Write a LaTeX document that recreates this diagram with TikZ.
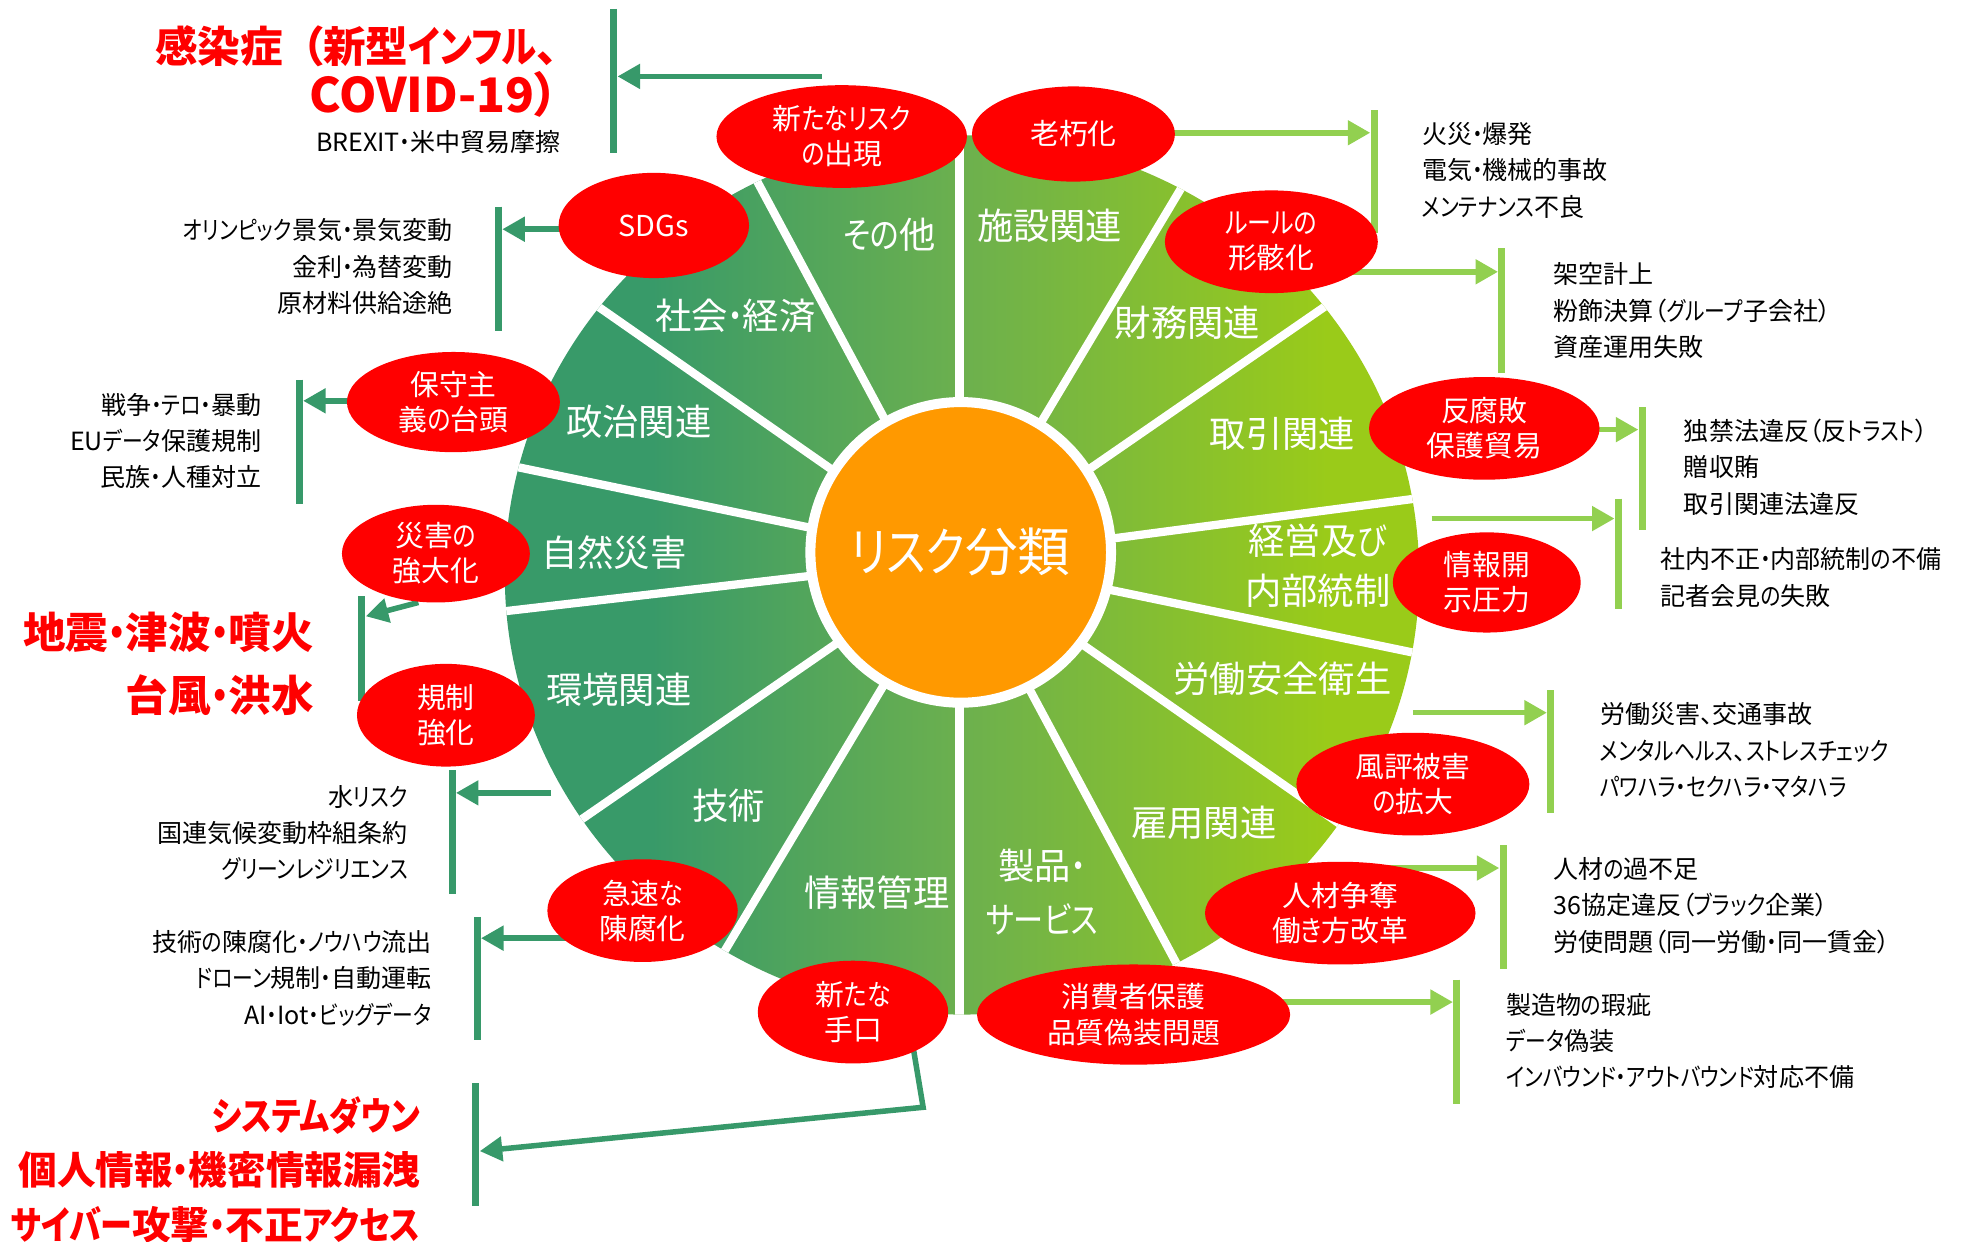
\documentclass[tikz,border=0pt]{standalone}
\usepackage{fontspec}
\setmainfont{Noto Sans CJK JP}[RawFeature=+palt]
\newfontfamily\kanafam{Noto Sans CJK JP}[RawFeature=+palt, FakeStretch=0.83]
\usetikzlibrary{arrows.meta,shapes.geometric}
\definecolor{dkg}{HTML}{37996A}
\definecolor{ltg}{HTML}{92D050}
\definecolor{rred}{HTML}{FF0000}
\definecolor{orng}{HTML}{FF9900}
\definecolor{wl}{HTML}{389A69}
\definecolor{wm}{HTML}{6CB04E}
\definecolor{wr}{HTML}{9ACB19}
\pgfdeclarehorizontalshading{wheelshade}{100bp}{color(0bp)=(wl); color(33bp)=(wl); color(50bp)=(wm); color(70bp)=(wr); color(100bp)=(wr)}
% narrower kana (as in the original UI font)
\XeTeXinterchartokenstate=1
\count255="3041
\loop \XeTeXcharclass\count255=5 \advance\count255 by 1 \ifnum\count255<"3100 \repeat
\XeTeXinterchartoks 0 5 = {\kanafam}
\XeTeXinterchartoks 4095 5 = {\kanafam}
\XeTeXinterchartoks 5 0 = {\rmfamily}
\XeTeXinterchartoks 5 4095 = {\rmfamily}
\tikzset{
  redell/.style={ellipse, fill=rred, text=white, inner sep=0pt, align=center,
     font=\fontsize{11.5}{14}\selectfont},
  sect/.style={text=white, align=center, inner sep=0pt, font=\fontsize{14.5}{20}\selectfont},
  listR/.style={anchor=east, align=right, inner sep=0pt, font=\fontsize{10}{14.5}\selectfont},
  listL/.style={anchor=west, align=left, inner sep=0pt, font=\fontsize{10}{14.5}\selectfont},
  bigred/.style={anchor=east, align=right, inner sep=0pt, text=rred, font=\bfseries\fontsize{15.4}{21.75}\selectfont},
  dbar/.style={draw=dkg, line width=2.8pt},
  lbar/.style={draw=ltg, line width=2.8pt},
  darr/.style={draw=dkg, line width=2.2pt, -{Triangle[length=9pt,width=9.5pt]}},
  larr/.style={draw=ltg, line width=2.2pt, -{Triangle[length=9pt,width=9.5pt]}},
  wsep/.style={draw=white, line width=3.3pt},
}
\begin{document}
\begin{tikzpicture}[x=0.5pt,y=-0.5pt]
\useasboundingbox (0,0) rectangle (1568,991);
\fill[white] (0,0) rectangle (1568,991);
% ---------- wheel
\coordinate (wc) at (766,446);
\shade[shading=wheelshade] (768,459) ellipse [x radius=182.5pt, y radius=175.5pt];
\begin{scope}
\clip (768,459) ellipse [x radius=182.5pt, y radius=175.5pt];
\foreach \a in {90,118.2,145.1,168.3,186.6,214.6,239.1,270,298.2,325.1,348.3,7.5,34.6,59.1}
  \draw[wsep] (wc) -- ++({420*cos(\a)},{-420*sin(\a)});
\end{scope}
\node[circle, fill=orng, draw=white, line width=4pt, minimum size=120pt, inner sep=0pt,
      text=white, font=\fontsize{21}{24}\selectfont] (ctr) at (767,441) {リスク分類};
% ---------- sector labels
\node[sect] (s1) at (710,187) {その他};
\node[sect] (s2) at (838,180) {施設関連};
\node[sect] (s3) at (587,252) {社会・経済};
\node[sect] (s4) at (948,258) {財務関連};
\node[sect] (s5) at (510,337) {政治関連};
\node[sect] (s6) at (1024,346) {取引関連};
\node[sect] (s7) at (490,441) {自然災害};
\node[sect] (s8) at (1052,452) {経営及び\\内部統制};
\node[sect] (s9) at (494,551) {環境関連};
\node[sect] (s10) at (1024,542) {労働安全衛生};
\node[sect] (s11) at (582,643) {技術};
\node[sect] (s12) at (961,657) {雇用関連};
\node[sect] (s13) at (700,713) {情報管理};
\node[sect, font=\fontsize{14.5}{21.5}\selectfont] (s14) at (832,712) {製品・\\サービス};
% ---------- ellipse centres
\path (672,109) coordinate (p1) (857,107) coordinate (p2) (522,180) coordinate (p3)
      (1015,193) coordinate (p4) (362,321) coordinate (p5) (1185,342) coordinate (p6)
      (348,442) coordinate (p7) (1187,465) coordinate (p8) (356,571) coordinate (p9)
      (1128,626) coordinate (p10) (513,727) coordinate (p11) (1070,729) coordinate (p12)
      (681,808) coordinate (p13) (905,810) coordinate (p14);
% ---------- bars
\coordinate (b1t) at (490,7);    \coordinate (b1b) at (490,122);
\coordinate (b2t) at (398,165);  \coordinate (b2b) at (398,264);
\coordinate (b3t) at (239,303);  \coordinate (b3b) at (239,402);
\coordinate (b4t) at (289,476);  \coordinate (b4b) at (289,560);
\coordinate (b5t) at (361,615);  \coordinate (b5b) at (361,714);
\coordinate (b6t) at (381,732);  \coordinate (b6b) at (381,830);
\coordinate (b7t) at (380,865);  \coordinate (b7b) at (380,963);
\coordinate (b8t) at (1097,88);  \coordinate (b8b) at (1097,186);
\coordinate (b9t) at (1199,198); \coordinate (b9b) at (1199,298);
\coordinate (b10t) at (1311,325); \coordinate (b10b) at (1311,423);
\coordinate (b11t) at (1292,398); \coordinate (b11b) at (1292,486);
\coordinate (b12t) at (1238,551); \coordinate (b12b) at (1238,649);
\coordinate (b13t) at (1200,675); \coordinate (b13b) at (1200,774);
\coordinate (b14t) at (1163,782); \coordinate (b14b) at (1163,881);
\foreach \i in {1,...,7} \draw[dbar] (b\i t) -- (b\i b);
\foreach \i in {8,...,14} \draw[lbar] (b\i t) -- (b\i b);
% ---------- arrow tips and free starts
\coordinate (a1) at (493,61);   \coordinate (a1s) at (656,61);
\coordinate (a2) at (401,183);
\coordinate (a3) at (242,320);
\coordinate (a4) at (292,492);  \coordinate (a4s) at (334,481);
\coordinate (a5) at (364,633);  \coordinate (a5s) at (440,633);
\coordinate (a6) at (384,749);
\coordinate (a7) at (383,919);  \coordinate (a7s) at (728,830); \coordinate (a7k) at (737,884);
\coordinate (a8) at (1094,106);
\coordinate (a9) at (1196,217);
\coordinate (a10) at (1308,343);
\coordinate (a11) at (1289,414); \coordinate (a11s) at (1143,414);
\coordinate (a12) at (1235,569); \coordinate (a12s) at (1128,569);
\coordinate (a13) at (1197,693); \coordinate (a13s) at (1064,693);
\coordinate (a14) at (1160,800);
\draw[darr] (a1s) -- (a1);
\draw[darr] (p3 |- a2) -- (a2);
\draw[darr] (p5 |- a3) -- (a3);
\draw[darr] (a4s) -- (a4);
\draw[darr] (a5s) -- (a5);
\draw[darr] (p11 |- a6) -- (a6);
\draw[darr] (a7s) -- (a7k) -- (a7);
\draw[larr] (p2 |- a8) -- (a8);
\draw[larr] (p4 |- a9) -- (a9);
\draw[larr] (p6 |- a10) -- (a10);
\draw[larr] (a11s) -- (a11);
\draw[larr] (a12s) -- (a12);
\draw[larr] (a13s) -- (a13);
\draw[larr] (p14 |- a14) -- (a14);
% ---------- red ellipses
\node[redell, minimum width=100pt, minimum height=41pt] (e1) at (p1) {新たなリスク\\の出現};
\node[redell, minimum width=81pt, minimum height=38pt] (e2) at (p2) {老朽化};
\node[redell, minimum width=76pt, minimum height=42pt] (e3) at (p3) {SDGs};
\node[redell, minimum width=85pt, minimum height=41pt] (e4) at (p4) {ルールの\\形骸化};
\node[redell, minimum width=85pt, minimum height=40pt] (e5) at (p5) {保守主\\義の台頭};
\node[redell, minimum width=92pt, minimum height=41pt] (e6) at (p6) {反腐敗\\保護貿易};
\node[redell, minimum width=75pt, minimum height=39pt] (e7) at (p7) {災害の\\強大化};
\node[redell, minimum width=75pt, minimum height=40pt] (e8) at (p8) {情報開\\示圧力};
\node[redell, minimum width=71pt, minimum height=41pt] (e9) at (p9) {規制\\強化};
\node[redell, minimum width=93pt, minimum height=41pt] (e10) at (p10) {風評被害\\の拡大};
\node[redell, minimum width=76pt, minimum height=41pt] (e11) at (p11) {急速な\\陳腐化};
\node[redell, minimum width=108pt, minimum height=41pt] (e12) at (p12) {人材争奪\\働き方改革};
\node[redell, minimum width=76pt, minimum height=41pt] (e13) at (p13) {新たな\\手口};
\node[redell, minimum width=125pt, minimum height=40pt] (e14) at (p14) {消費者保護\\品質偽装問題};
% ---------- outer texts, left
\node[bigred, font=\bfseries\fontsize{17}{20}\selectfont] (r1) at (446,57) {感染症\kern0.45em（新型インフル、\\{\fontsize{19}{20}\selectfont COVID-19）}};
\node[listR] (t1) at (448,113) {BREXIT・米中貿易摩擦};
\node[listR] (t2) at (362,213) {オリンピック景気・景気変動\\金利・為替変動\\原材料供給途絶};
\node[listR] (t3) at (209,352) {戦争・テロ・暴動\\EUデータ保護規制\\民族・人種対立};
\node[bigred, font=\bfseries\fontsize{17}{25}\selectfont] (r2) at (251,530) {地震・津波・噴火\\台風・洪水};
\node[listR] (t4) at (326,665) {水リスク\\国連気候変動枠組条約\\グリーンレジリエンス};
\node[listR] (t5) at (345,781) {技術の陳腐化・ノウハウ流出\\ドローン規制・自動運転\\AI・Iot・ビッグデータ};
\node[bigred] (r3) at (336,934) {システムダウン\\個人情報・機密情報漏洩\\サイバー攻撃・不正アクセス};
% ---------- outer texts, right
\node[listL] (t6) at (1135,136) {火災・爆発\\電気・機械的事故\\メンテナンス不良};
\node[listL] (t7) at (1240,248) {架空計上\\粉飾決算（グループ子会社）\\資産運用失敗};
\node[listL] (t8) at (1344,373) {独禁法違反（反トラスト）\\贈収賄\\取引関連法違反};
\node[listL] (t9) at (1325,461) {社内不正・内部統制の不備\\記者会見の失敗};
\node[listL] (t10) at (1277,599) {労働災害、交通事故\\メンタルヘルス、ストレスチェック\\パワハラ・セクハラ・マタハラ};
\node[listL] (t11) at (1240,723) {人材の過不足\\36協定違反（ブラック企業）\\労使問題（同一労働・同一賃金）};
\node[listL] (t12) at (1202,831) {製造物の瑕疵\\データ偽装\\インバウンド・アウトバウンド対応不備};
\end{tikzpicture}
\end{document}
